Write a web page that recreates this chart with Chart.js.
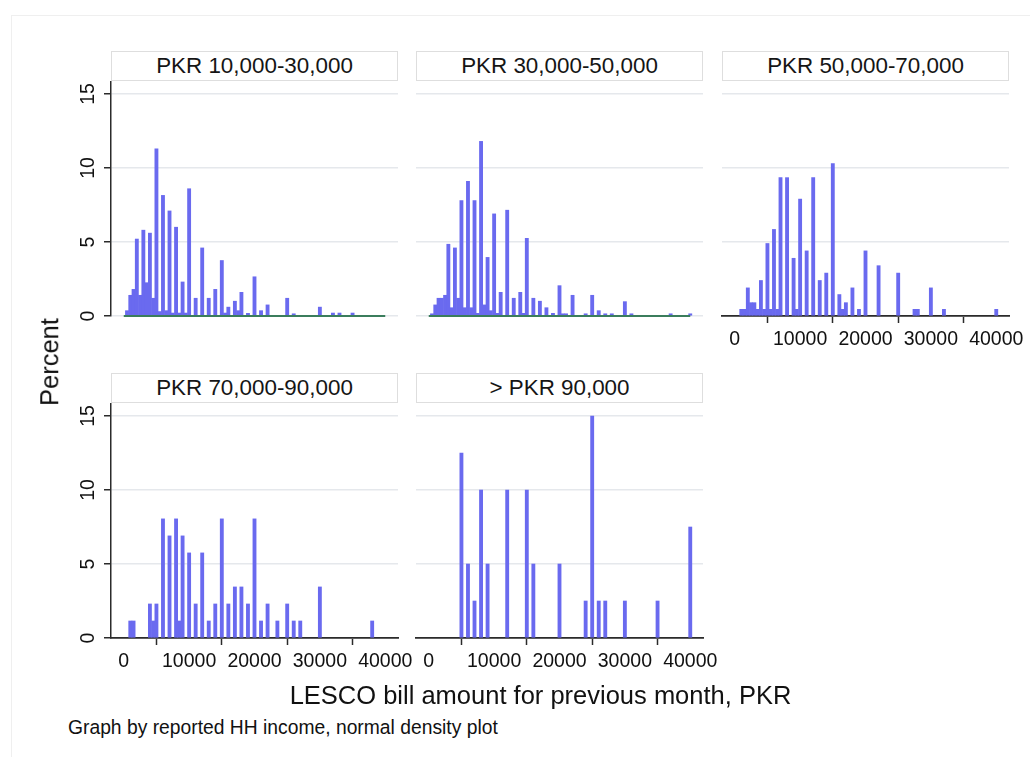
<!DOCTYPE html>
<html>
<head>
<meta charset="utf-8">
<script src="https://cdn.jsdelivr.net/npm/chart.js@4.4.1/dist/chart.umd.min.js"></script>
<style>
  html, body { margin: 0; padding: 0; background: #fff; }
  body { width: 1030px; height: 757px; position: relative; overflow: hidden;
         font-family: "Liberation Sans", Arial, Helvetica, sans-serif; color: #111; }
  .frame { position: absolute; left: 11px; top: 15px; width: 1100px; height: 800px;
           border: 1px solid #efefef; }
  .strip { position: absolute; box-sizing: border-box; height: 30px; border: 1px solid #dedede;
           background: #fff; font-size: 22.4px; line-height: 28px; text-align: center; color: #151515;
           white-space: nowrap; }
  .panel { position: absolute; }
  .ytitle { position: absolute; left: 50px; top: 362px; font-size: 25.5px; line-height: 1;
            transform: translate(-50%, -50%) rotate(-90deg); white-space: nowrap; color: #111; }
  .xtitle { position: absolute; left: 540.5px; top: 683px; font-size: 25.5px; line-height: 1;
            transform: translateX(-50%); white-space: nowrap; color: #111; }
  .note { position: absolute; left: 68px; top: 718px; font-size: 19.3px; line-height: 1;
          white-space: nowrap; color: #111; }
</style>
</head>
<body>
<div class="frame"></div>
<div id="panels"></div>
<div class="ytitle">Percent</div>
<div class="xtitle">LESCO bill amount for previous month, PKR</div>
<div class="note">Graph by reported HH income, normal density plot</div>

<script>
// Income groups (one histogram per group)
const incomeGroups = ["PKR 10,000-30,000", "PKR 30,000-50,000", "PKR 50,000-70,000",
                      "PKR 70,000-90,000", "> PKR 90,000"];

// Axis ticks
const xTickValues = [0, 10000, 20000, 30000, 40000];
const yTickValues = [0, 5, 10, 15];

// Histogram bins (bill amount, PKR) and percent of households per group
const billsG1 = [500, 1000, 1500, 2000, 2500, 3000, 3500, 4000, 4500, 5000, 5500, 6000, 6500, 7000, 7500,
                 8000, 8500, 9000, 9500, 10000, 11000, 12000, 13000, 14000, 15000, 15500, 16000, 17000,
                 17500, 18000, 19000, 20000, 21000, 22000, 25000, 26000, 30000, 32000, 33000, 35000];
const pctG1   = [0.36, 1.4, 1.8, 5.2, 1.4, 5.8, 2.25, 5.6, 1.2, 11.3, 0.3, 8.15, 0.36, 7.1, 0.2,
                 6.0, 0.2, 2.3, 0.2, 8.6, 1.2, 4.6, 1.2, 1.8, 3.75, 0.2, 0.6, 1.0,
                 0.36, 1.6, 0.18, 2.65, 0.36, 0.75, 1.2, 0.15, 0.6, 0.2, 0.2, 0.2];

const billsG2 = [500, 1000, 1500, 2000, 2500, 3000, 3500, 4000, 4500, 5000, 5500, 6000, 6500, 7000, 7500,
                 8000, 8500, 9000, 9500, 10000, 10500, 11000, 12000, 13000, 14000, 14500, 15000, 16000,
                 17000, 18000, 19000, 20000, 20500, 21000, 22000, 24000, 25000, 26000, 27000, 28000,
                 30000, 31000, 37000, 40000];
const pctG2   = [0.15, 0.75, 1.2, 1.2, 1.4, 4.85, 0.56, 4.6, 1.2, 7.8, 0.56, 9.1, 0.56, 7.8, 0.18,
                 11.8, 0.75, 3.96, 0.36, 6.9, 0.18, 1.6, 7.15, 1.2, 1.6, 0.18, 5.25, 1.2,
                 1.0, 0.56, 0.18, 2.05, 0.15, 0.15, 1.4, 0.15, 1.4, 0.36, 0.15, 0.15,
                 0.97, 0.15, 0.15, 0.15];

const billsG3 = [1000, 1500, 2000, 2500, 3000, 3500, 4000, 4500, 5000, 5500, 6000, 6500, 7000, 8000,
                 9000, 9500, 10000, 11000, 12000, 13000, 14000, 15000, 16000, 16500, 17000, 18000,
                 19000, 20000, 22000, 25000, 27500, 28000, 30000, 32000, 40000];
const pctG3   = [0.45, 0.45, 1.9, 0.9, 0.9, 0.45, 2.4, 0.45, 4.9, 0.45, 5.85, 0.45, 9.35, 9.35,
                 3.9, 0.45, 7.9, 4.4, 9.35, 2.4, 2.9, 10.3, 1.45, 0.45, 0.9, 1.9,
                 0.45, 4.4, 3.4, 2.9, 0.45, 0.45, 1.9, 0.45, 0.45];

const billsG4 = [1000, 1500, 4000, 4500, 5000, 6000, 7000, 8000, 8500, 9000, 10000, 11000, 12000, 13000,
                 14000, 15000, 16000, 17000, 18000, 19000, 20000, 21000, 22000, 23500, 25000, 26000,
                 27000, 30000, 38000];
const pctG4   = [1.15, 1.15, 2.3, 1.15, 2.3, 8.05, 6.9, 8.05, 1.15, 6.9, 5.75, 2.3, 5.75, 1.15,
                 2.3, 8.05, 2.3, 3.45, 3.45, 2.3, 8.05, 1.15, 2.3, 1.15, 2.3, 1.15,
                 1.15, 3.45, 1.15];

const billsG5 = [5000, 6000, 7000, 8000, 9000, 12000, 15000, 16000, 20000, 24000, 25000, 26000, 27000,
                 30000, 35000, 40000];
const pctG5   = [12.5, 5, 2.5, 10, 5, 10, 10, 5, 5, 2.5, 15, 2.5, 2.5, 2.5, 2.5, 7.5];

// Overlaid normal density (percent scale), effectively flat along zero
const densityBills = [0, 40000];
const densityPct   = [0, 0];

// Layout of the 3 + 2 grid of panels (plot-area rectangles)
const panelLayout = [
  { left: 111, top: 81,  showY: true,  showX: false },
  { left: 416, top: 81,  showY: false, showX: false },
  { left: 722, top: 81,  showY: false, showX: true  },
  { left: 111, top: 403, showY: true,  showX: true  },
  { left: 416, top: 403, showY: false, showX: true  }
];
const groupBills = [billsG1, billsG2, billsG3, billsG4, billsG5];
const groupPct   = [pctG1, pctG2, pctG3, pctG4, pctG5];

const PLOT_W = 287, PLOT_H = 235, AXIS_W = 50, AXIS_H = 45, PAD_R = 30;
const FONT = '"Liberation Sans", Arial, Helvetica, sans-serif';
const BAR_COLOR = '#6a6aef';
const DENSITY_COLOR = '#3b7d5c';
const AXIS_COLOR = '#2b2b2b';
const GRID_COLOR = '#e5e8ec';

// Draws vertical (rotated) y tick labels, Stata-style
const rotatedYLabels = {
  id: 'rotatedYLabels',
  afterDraw(chart, args, opts) {
    if (!opts.show) return;
    const ys = chart.scales.y, ctx = chart.ctx;
    ctx.save();
    ctx.font = '19.5px ' + FONT;
    ctx.fillStyle = '#111';
    ctx.textAlign = 'center';
    ctx.textBaseline = 'middle';
    ys.ticks.forEach(t => {
      const py = ys.getPixelForValue(t.value);
      ctx.save();
      ctx.translate(chart.chartArea.left - 22.5, py);
      ctx.rotate(-Math.PI / 2);
      ctx.fillText(String(t.value), 0, 0);
      ctx.restore();
    });
    ctx.restore();
  }
};

const host = document.getElementById('panels');

panelLayout.forEach((p, i) => {
  // title strip
  const strip = document.createElement('div');
  strip.className = 'strip';
  strip.style.left = p.left + 'px';
  strip.style.top = (p.top - 30) + 'px';
  strip.style.width = PLOT_W + 'px';
  strip.textContent = incomeGroups[i];
  host.appendChild(strip);

  // chart canvas
  const wrap = document.createElement('div');
  wrap.className = 'panel';
  wrap.style.left = (p.left - AXIS_W) + 'px';
  wrap.style.top = p.top + 'px';
  const cv = document.createElement('canvas');
  cv.width = AXIS_W + PLOT_W + PAD_R;
  cv.height = PLOT_H + AXIS_H;
  cv.style.width = cv.width + 'px';
  cv.style.height = cv.height + 'px';
  wrap.appendChild(cv);
  host.appendChild(wrap);

  const bars = groupBills[i].map((b, k) => ({ x: b, y: groupPct[i][k] }));
  const density = densityBills.map((b, k) => ({ x: b, y: densityPct[k] }));

  const datasets = [
    { type: 'bar', data: bars, backgroundColor: BAR_COLOR, borderWidth: 0,
      barThickness: 3.2, order: 1 }
  ];
  // the density curve sits on zero; where an x axis is drawn the axis line covers it
  if (!p.showX) {
    datasets.unshift({ type: 'line', data: density, borderColor: DENSITY_COLOR, borderWidth: 2,
                       pointRadius: 0, fill: false, clip: false, order: 0 });
  }

  new Chart(cv, {
    type: 'bar',
    data: { datasets },
    options: {
      responsive: false,
      devicePixelRatio: 1,
      animation: false,
      layout: { padding: { left: 0, top: 0, right: PAD_R, bottom: 0 } },
      plugins: {
        legend: { display: false },
        tooltip: { enabled: false },
        rotatedYLabels: { show: p.showY }
      },
      scales: {
        x: {
          type: 'linear',
          min: -1950, max: 41950,
          offset: false,
          z: 1,
          afterBuildTicks: s => { s.ticks = xTickValues.map(v => ({ value: v })); },
          afterFit: s => { s.height = AXIS_H; },
          border: { display: p.showX, color: AXIS_COLOR, width: 1.8 },
          grid: { display: p.showX, drawOnChartArea: false, drawTicks: true, tickLength: 7,
                  tickColor: AXIS_COLOR, tickWidth: 1.5 },
          ticks: { display: p.showX, color: '#111', padding: 5, maxRotation: 0, minRotation: 0,
                   font: { family: FONT, size: 19.5 }, callback: v => String(v) }
        },
        y: {
          type: 'linear',
          min: 0, max: 15.88,
          afterBuildTicks: s => { s.ticks = yTickValues.map(v => ({ value: v })); },
          afterFit: s => { s.width = AXIS_W; },
          border: { display: p.showY, color: AXIS_COLOR, width: 1.5 },
          grid: { color: GRID_COLOR, lineWidth: 1.5, drawTicks: p.showY, tickLength: 7,
                  tickColor: AXIS_COLOR, tickWidth: 1.5 },
          ticks: { display: false }
        }
      }
    },
    plugins: [rotatedYLabels]
  });
});
</script>
</body>
</html>
